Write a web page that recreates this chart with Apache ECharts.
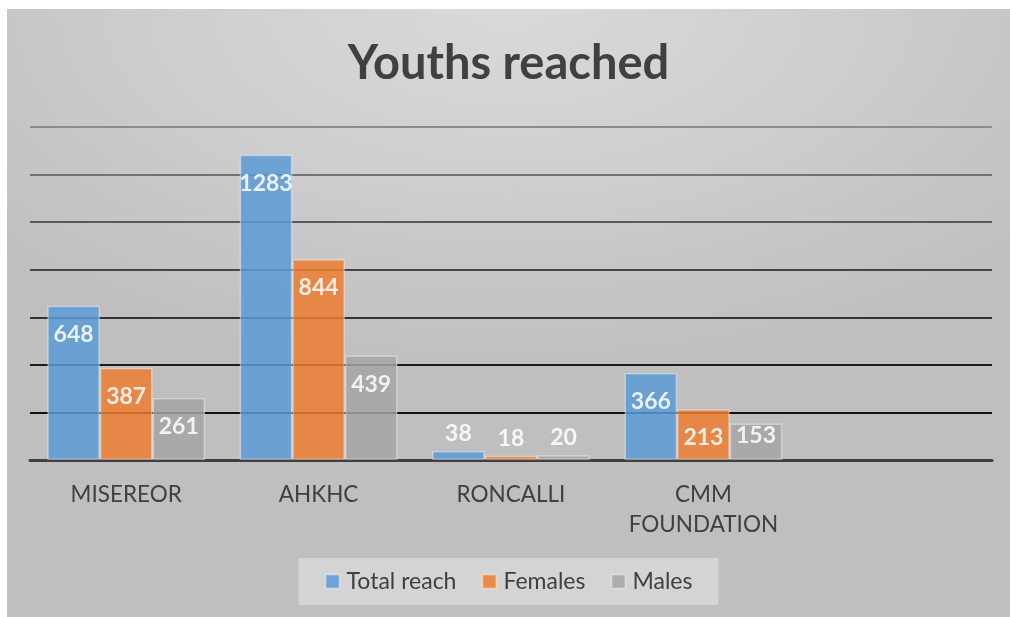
<!DOCTYPE html>
<html>
<head>
<meta charset="utf-8">
<script src="https://cdn.jsdelivr.net/npm/echarts@6/dist/echarts.min.js"></script>
<style>
  html, body { margin: 0; padding: 0; background: #ffffff; }
  #chart {
    position: absolute; left: 7px; top: 9px; width: 1003px; height: 608px;
    background: radial-gradient(ellipse 70% 60% at 50% 0%, #dadada 0%, #cfcfcf 45%, #bfbfbf 100%);
  }
</style>
</head>
<body>
<div id="chart"></div>
<script>
const categories = ['MISEREOR', 'AHKHC', 'RONCALLI', 'CMM\nFOUNDATION', ''];
const totalReach = [648, 1283, 38, 366, null];
const females = [387, 844, 18, 213, null];
const males = [261, 439, 20, 153, null];
const seriesNames = ['Total reach', 'Females', 'Males'];
const yTicks = { min: 0, max: 1400, interval: 200 };

const colors = ['#5b9bd5', '#ed7d31', '#a5a5a5'];
const FONT = 'Lato, "Noto Sans", sans-serif';

function buildData(values) {
  return values.map(v => {
    if (v == null) return { value: null };
    const item = { value: v };
    if (v < 100) {
      item.label = { position: 'top', distance: 6 };
    } else if (v < 180) {
      item.label = { position: 'insideTop', distance: 0 };
    }
    return item;
  });
}

const chart = echarts.init(document.getElementById('chart'), null, { renderer: 'canvas' });
const seriesValues = [totalReach, females, males];

chart.setOption({
  backgroundColor: 'transparent',
  animation: false,
  title: {
    text: 'Youths reached',
    left: 'center',
    top: 26,
    textStyle: { fontFamily: FONT, fontSize: 47, fontWeight: 'bold', color: '#404040' }
  },
  legend: {
    data: seriesNames,
    bottom: 12,
    left: 'center',
    backgroundColor: '#d4d4d4',
    padding: [12, 26, 12, 26],
    itemWidth: 14,
    itemHeight: 14,
    itemGap: 25,
    icon: 'rect',
    textStyle: { fontFamily: FONT, fontSize: 23, color: '#404040', padding: [0, 0, 0, 2] }
  },
  grid: { left: 23, right: 18, top: 118, bottom: 157, containLabel: false },
  xAxis: {
    type: 'category',
    data: categories,
    axisLine: { show: true, lineStyle: { color: '#404040', width: 3 } },
    axisTick: { show: false },
    axisLabel: { fontFamily: FONT, fontSize: 22.5, color: '#404040', margin: 20, lineHeight: 30, interval: 0 }
  },
  yAxis: {
    type: 'value',
    min: yTicks.min,
    max: yTicks.max,
    interval: yTicks.interval,
    axisLabel: { show: false },
    axisLine: { show: false },
    axisTick: { show: false },
    splitLine: {
      show: true,
      lineStyle: {
        width: 2,
        color: ['#111111', '#111111', '#1c1c1c', '#333333', '#454545', '#5a5a5a', '#727272', '#8c8c8c']
      }
    }
  },
  series: seriesNames.map((name, i) => ({
    name: name,
    type: 'bar',
    data: buildData(seriesValues[i]),
    barGap: '0%',
    barCategoryGap: '18%',
    itemStyle: {
      color: colors[i],
      opacity: 0.85,
      borderColor: 'rgba(255,255,255,0.45)',
      borderWidth: 1.5
    },
    label: {
      show: true,
      position: 'insideTop',
      distance: 17,
      fontFamily: FONT,
      fontSize: 23,
      fontWeight: 'bold',
      color: '#ffffff'
    }
  }))
});
</script>
</body>
</html>
